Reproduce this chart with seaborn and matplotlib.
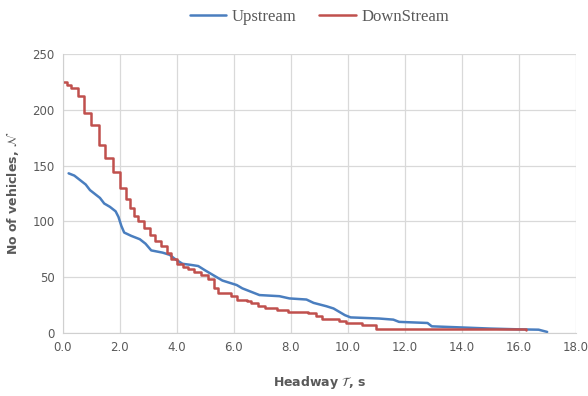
import matplotlib
matplotlib.use("Agg")
import matplotlib.pyplot as plt
import seaborn as sns
import pandas as pd

# Upstream: headway (s) vs number of vehicles
up_t = [0.2, 0.4, 0.6, 0.8, 0.95, 1.1, 1.3, 1.45, 1.65, 1.85, 1.95, 2.05, 2.15,
        2.4, 2.7, 2.9, 3.1, 3.5, 3.75, 3.95, 4.2, 4.5, 4.75, 5.0, 5.2, 5.4, 5.6,
        5.85, 6.1, 6.3, 6.6, 6.9, 7.6, 7.95, 8.55, 8.8, 9.25, 9.5, 9.7, 9.9,
        10.1, 11.1, 11.6, 11.8, 12.8, 12.95, 14.0, 15.0, 16.0, 16.7, 17.0]
up_n = [143, 141, 137, 133, 128, 125, 121, 116, 113, 109, 104, 96, 90,
        87, 84, 80, 74, 72, 70, 66, 62, 61, 60, 56, 53, 50, 47,
        45, 43, 40, 37, 34, 33, 31, 30, 27, 24, 22, 19, 16,
        14, 13, 12, 10, 9, 6, 5, 4, 3.3, 3, 1]

# DownStream: step levels
down_t = [0.0, 0.14, 0.3, 0.52, 0.75, 1.0, 1.26, 1.47, 1.75, 2.0, 2.2, 2.35,
          2.5, 2.65, 2.85, 3.05, 3.25, 3.45, 3.65, 3.8, 4.0, 4.2, 4.4, 4.6,
          4.85, 5.1, 5.3, 5.45, 5.9, 6.1, 6.45, 6.6, 6.85, 7.1, 7.5, 7.9, 8.6,
          8.9, 9.1, 9.7, 9.95, 10.5, 11.0, 11.5, 16.25]
down_n = [225, 222, 219, 212, 197, 186, 168, 157, 144, 130, 120, 112,
          105, 100, 94, 88, 82, 78, 72, 66, 62, 59, 57, 55,
          52, 48, 40, 36, 33, 30, 29, 27, 24, 22, 21, 19, 18,
          15, 13, 11, 9, 7, 4, 3.5, 3]

x_ticks = [0, 2, 4, 6, 8, 10, 12, 14, 16, 18]
y_ticks = [0, 50, 100, 150, 200, 250]

up = pd.DataFrame({"t": up_t, "n": up_n})
down = pd.DataFrame({"t": down_t, "n": down_n})

sns.set_style("white")
grey = "#595959"

fig = plt.figure(figsize=(5.88, 3.96), dpi=100)
ax = fig.add_axes([0.107, 0.159, 0.872, 0.705])

sns.lineplot(data=up, x="t", y="n", ax=ax, color="#4a7ebf", lw=1.8,
             label="Upstream")
sns.lineplot(data=down, x="t", y="n", ax=ax, color="#c0504d", lw=1.8,
             drawstyle="steps-post", label="DownStream")

ax.set_xlim(0, 18)
ax.set_ylim(0, 250)
ax.set_xticks(x_ticks)
ax.set_xticklabels([f"{v:.1f}" for v in x_ticks])
ax.set_yticks(y_ticks)
ax.tick_params(axis="both", length=0, labelsize=8.5, labelcolor=grey, pad=6)
ax.grid(True, color="#d9d9d9", lw=0.9)
for s in ["top", "right"]:
    ax.spines[s].set_visible(False)
for s in ["left", "bottom"]:
    ax.spines[s].set_color("#d0d0d0")

ax.set_xlabel(r"Headway $\mathcal{T}$, s", fontsize=9, fontweight="bold",
              color=grey, labelpad=14)
ax.set_ylabel(r"No of vehicles, $\mathcal{N}$", fontsize=9, fontweight="bold",
              color=grey, labelpad=8)

leg = ax.legend(loc="upper center", bbox_to_anchor=(0.5, 1.215), ncol=2,
                frameon=False, prop={"family": "Liberation Serif", "size": 12},
                handlelength=2.2, columnspacing=1.4, handletextpad=0.3)
for t in leg.get_texts():
    t.set_color(grey)

fig.savefig("out.png", dpi=100)
